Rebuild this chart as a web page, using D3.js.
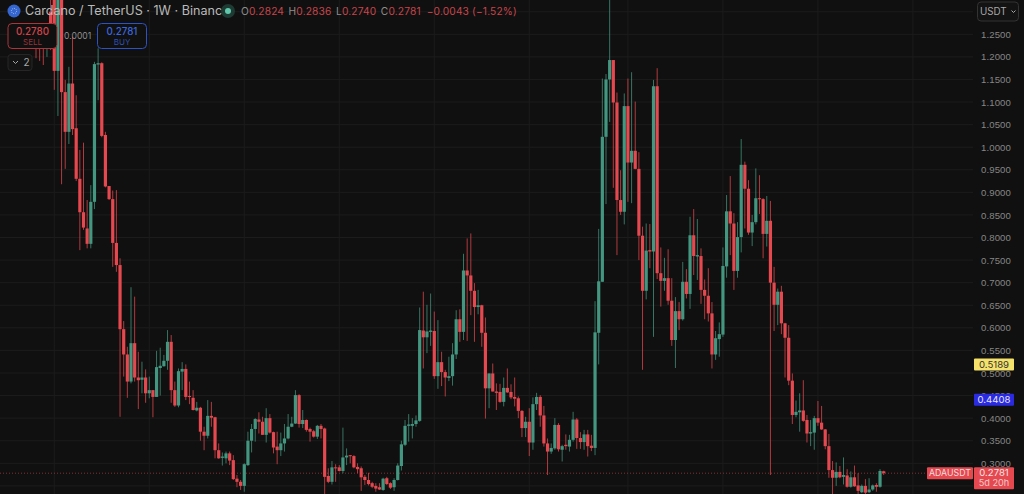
<!DOCTYPE html>
<html>
<head>
<meta charset="utf-8">
<script src="https://cdn.jsdelivr.net/npm/d3@7"></script>
<style>
  html, body { margin: 0; padding: 0; background: #101010; overflow: hidden; }
  svg { display: block; font-family: Inter, "Noto Sans", sans-serif; }
  .price-axis text { fill: #868686; font-size: 9.6px; letter-spacing: 0.1px; }
</style>
</head>
<body>
<div id="chart"></div>
<script>
const opens = [1.27,1.245,1.25,1.22,1.30,1.40,1.169,1.38,1.122,1.034,1.141,1.042,.930,.856,.820,.786,.879,1.183,1.186,1.027,.914,.885,.788,
.739,.597,.541,.481,.566,.490,.485,.490,.455,.462,.447,.511,.515,.527,.569,.462,.428,.503,.509,.449,.445,.417,.423,.370,.361,.405,.402,.329,.312,.311,.322,.307,.266,.259,.250,.296,.350,.376,.397,.392,.363,.400,.369,.337,.329,.344,.355,.381,.388,.451,.387,.396,.376,.371,.359,.383,.377,.272,.259,.291,.291,.283,.313,.318,.316,.292,.289,.270,.263,.256,.250,.247,.241,.267,.256,.247,.263,
.294,.341,.383,.383,.387,.394,.594,.579,.591,.593,.493,.524,.502,.489,.493,.541,.619,.591,.727,.716,.682,.646,.650,.589,.466,.499,.459,.458,.436,.467,.458,.447,.444,.416,.378,.392,.346,.431,.447,.406,.344,.326,.333,.385,.330,.341,.337,.352,.397,.356,.347,.364,.339,.334,.589,
.702,1.023,1.150,1.193,1.099,.883,.857,1.091,.966,.992,.952,.804,.682,.772,.769,1.135,.721,.704,.710,.660,.573,.637,.619,.702,.675,.805,.758,.759,.684,.671,.632,.541,.575,.585,.736,.858,.831,.726,.801,.961,.908,.811,.834,.887,.885,.808,
.837,.700,.651,.680,.610,.578,.483,.407,.413,.417,.396,.366,.368,.400,.390,.375,.338,.285,.268,.281,.270,.273,.248,.269,.251,.236,.250,.236,.242,.252,.248,.2824];
const highs = [1.275,1.26,1.27,1.27,1.33,1.44,1.45,1.42,1.149,1.178,1.245,1.115,.994,1.010,.883,.916,1.189,1.219,1.188,1.034,.914,.904,.905,
.754,.615,.558,.690,.669,.547,.525,.508,.492,.462,.549,.556,.540,.595,.584,.481,.510,.524,.519,.481,.462,.436,.425,.381,.440,.436,.403,.344,.324,.326,.326,.318,.274,.263,.300,.370,.387,.400,.413,.403,.422,.409,.370,.370,.368,.387,.409,.403,.462,.453,.418,.397,.379,.374,.385,.387,.379,.289,.305,.298,.296,.379,.333,.318,.318,.300,.293,.274,.279,.259,.256,.256,.268,.270,.258,.267,.300,
.350,.396,.409,.400,.406,.645,.680,.651,.676,.636,.617,.547,.507,.536,.566,.639,.641,.764,.798,.809,.699,.684,.651,.623,.499,.521,.477,.476,.490,.510,.475,.490,.448,.418,.403,.422,.446,.456,.451,.427,.355,.344,.400,.389,.341,.364,.363,.414,.400,.369,.374,.374,.363,.659,.819,
1.152,1.162,1.33,1.193,1.121,.949,1.119,1.152,1.166,1.101,.989,.824,.831,.830,1.149,1.175,.778,.755,.774,.710,.668,.657,.746,.730,.846,.863,.841,.776,.707,.732,.657,.593,.612,.778,.894,.936,.854,.834,1.018,.968,.927,.850,.953,.938,.887,.892,
.881,.735,.687,.693,.611,.606,.499,.439,.455,.484,.407,.396,.405,.438,.427,.376,.365,.305,.302,.294,.313,.287,.282,.295,.278,.253,.265,.267,.253,.256,.287,.2836];
const lows = [1.197,1.191,1.182,1.200,1.215,1.127,1.069,.918,.952,1.007,1.027,.925,.772,.817,.776,.776,.863,1.104,1.022,.911,.883,.735,.724,
.403,.492,.445,.477,.481,.420,.455,.434,.444,.402,.447,.450,.514,.507,.434,.425,.424,.462,.440,.431,.417,.415,.350,.329,.355,.381,.311,.310,.295,.300,.296,.263,.247,.241,.237,.294,.324,.348,.366,.363,.346,.366,.322,.298,.316,.326,.353,.380,.387,.379,.378,.370,.348,.357,.354,.355,.220,.256,.253,.259,.282,.278,.296,.300,.289,.278,.239,.252,.251,.245,.237,.241,.239,.252,.243,.239,.262,
.284,.338,.348,.355,.381,.392,.510,.544,.560,.487,.465,.471,.448,.482,.472,.531,.569,.573,.571,.628,.569,.630,.558,.399,.422,.459,.418,.434,.426,.456,.442,.426,.400,.358,.358,.316,.330,.418,.381,.337,.274,.321,.330,.326,.304,.330,.326,.348,.332,.332,.330,.315,.327,.318,.519,
.702,.874,1.056,.910,.761,.850,.829,.879,.876,.951,.750,.507,.663,.732,.580,.708,.647,.682,.651,.560,.511,.595,.616,.665,.642,.717,.706,.653,.619,.614,.510,.529,.536,.580,.711,.761,.684,.711,.767,.820,.806,.781,.829,.852,.754,.780,
.274,.593,.606,.586,.490,.473,.387,.402,.370,.392,.346,.338,.330,.383,.374,.331,.268,.225,.250,.267,.253,.246,.246,.248,.232,.234,.232,.234,.239,.237,.246,.2740];
const closes = [1.245,1.22,1.22,1.25,1.25,1.169,1.38,1.122,1.034,1.141,1.040,.930,.856,.822,.786,.879,1.184,1.186,1.025,.913,.885,.788,.739,
.597,.541,.481,.566,.490,.484,.490,.455,.462,.447,.513,.516,.527,.569,.462,.428,.504,.509,.447,.447,.418,.423,.370,.361,.405,.401,.329,.311,.315,.322,.306,.265,.259,.250,.298,.350,.376,.398,.392,.363,.400,.368,.335,.329,.344,.355,.381,.388,.451,.387,.396,.374,.370,.359,.383,.376,.270,.259,.291,.290,.283,.313,.317,.316,.291,.287,.269,.263,.254,.248,.244,.242,.266,.254,.246,.263,.295,
.342,.383,.386,.387,.395,.595,.579,.592,.594,.493,.524,.502,.490,.493,.541,.619,.591,.727,.716,.682,.646,.650,.589,.466,.499,.459,.456,.436,.467,.457,.446,.443,.416,.378,.392,.346,.431,.447,.406,.344,.326,.334,.385,.331,.338,.338,.352,.397,.356,.347,.364,.338,.334,.590,.703,
1.023,1.150,1.193,1.099,.883,.857,1.091,.966,.992,.952,.804,.682,.771,.769,1.135,.721,.704,.710,.660,.573,.637,.619,.702,.675,.805,.759,.761,.684,.671,.632,.541,.577,.586,.737,.858,.831,.726,.801,.961,.908,.811,.834,.887,.885,.808,.837,
.700,.651,.680,.610,.578,.483,.407,.414,.417,.394,.366,.369,.400,.390,.375,.338,.285,.268,.281,.269,.274,.248,.269,.249,.239,.250,.235,.242,.251,.248,.283,.2781];

const priceTicks = [0.30,0.35,0.40,0.45,0.50,0.55,0.60,0.65,0.70,0.75,0.80,0.85,0.90,0.95,1.00,1.05,1.10,1.15,1.20,1.25];
const gridPrices = [0.25, ...priceTicks, 1.30];
const gridCandles = [5,31,57,83,109,135,162,188,214,240];

const titleText = "Cardano / TetherUS · 1W · Binance";
const ohlcLabels = ["O","H","L","C"];
const ohlcValues = ["0.2824","0.2836","0.2740","0.2781"];
const changeText = "−0.0043 (−1.52%)";
const yellowLevel = 0.5189;
const blueLevel = 0.4408;
const lastPrice = 0.2781;

const width = 1024, height = 494;
const plotRight = 973;
const red = "#e5484f", green = "#43967f";

const x = d3.scaleLinear().domain([0, opens.length - 1]).range([36, 883.7]);
const y = d3.scaleLinear().domain([0.30, 1.25]).range([463.3, 34.3]);

const svg = d3.select("#chart").append("svg")
  .attr("width", width)
  .attr("height", height);

svg.append("rect").attr("width", width).attr("height", height).attr("fill", "#101010");

// grid
svg.append("g").selectAll("line").data(gridPrices).join("line")
  .attr("x1", 0).attr("x2", plotRight)
  .attr("y1", d => y(d)).attr("y2", d => y(d))
  .attr("stroke", "#1c1c1c");

svg.append("g").selectAll("line").data(gridCandles).join("line")
  .attr("x1", d => x(d)).attr("x2", d => x(d))
  .attr("y1", 0).attr("y2", height)
  .attr("stroke", "#1c1c1c");

// last price line
svg.append("line")
  .attr("x1", 0).attr("x2", plotRight - 46)
  .attr("y1", y(lastPrice)).attr("y2", y(lastPrice))
  .attr("stroke", red).attr("stroke-opacity", 0.55)
  .attr("stroke-dasharray", "1 2");

// candles
const candles = svg.append("g").selectAll("g").data(d3.range(opens.length)).join("g");
const colorOf = i => closes[i] >= opens[i] ? green : red;

candles.append("line")
  .attr("x1", i => x(i)).attr("x2", i => x(i))
  .attr("y1", i => y(highs[i])).attr("y2", i => y(lows[i]))
  .attr("stroke", colorOf).attr("stroke-opacity", 0.75);

candles.append("rect")
  .attr("x", i => x(i) - 1.6)
  .attr("width", 3.2)
  .attr("y", i => y(Math.max(opens[i], closes[i])))
  .attr("height", i => Math.max(1, Math.abs(y(opens[i]) - y(closes[i]))))
  .attr("fill", colorOf);

// price axis
const axis = svg.append("g")
  .attr("class", "price-axis")
  .attr("transform", `translate(981,0)`)
  .call(d3.axisRight(y).tickValues(priceTicks).tickSize(0).tickPadding(0).tickFormat(d3.format(".4f")));
axis.select(".domain").remove();

// price tags
function priceTag(level, fill, textFill) {
  svg.append("rect")
    .attr("x", 974).attr("y", y(level) - 6).attr("width", 40).attr("height", 12).attr("rx", 1)
    .attr("fill", fill);
  svg.append("text")
    .attr("x", 994).attr("y", y(level) + 3.4).attr("text-anchor", "middle")
    .attr("font-size", 9.6).attr("fill", textFill)
    .text(d3.format(".4f")(level));
}
priceTag(yellowLevel, "#f5e26b", "#333");
priceTag(blueLevel, "#2a2ae0", "#e4e4ff");

svg.append("rect")
  .attr("x", 927).attr("y", y(lastPrice) - 6).attr("width", 46).attr("height", 12).attr("rx", 1)
  .attr("fill", red);
svg.append("text")
  .attr("x", 950).attr("y", y(lastPrice) + 3.2).attr("text-anchor", "middle")
  .attr("font-size", 8.8).attr("fill", "#f6dcdc")
  .text("ADAUSDT");
svg.append("rect")
  .attr("x", 974).attr("y", y(lastPrice) - 6).attr("width", 40).attr("height", 22).attr("rx", 1)
  .attr("fill", red);
svg.append("text")
  .attr("x", 994).attr("y", y(lastPrice) + 3.2).attr("text-anchor", "middle")
  .attr("font-size", 9.6).attr("fill", "#f8e2e2")
  .text(d3.format(".4f")(lastPrice));
svg.append("text")
  .attr("x", 994).attr("y", y(lastPrice) + 13).attr("text-anchor", "middle")
  .attr("font-size", 9.2).attr("fill", "#f3c8c8")
  .text("5d 20h");

// currency button
svg.append("rect")
  .attr("x", 977.5).attr("y", 2).attr("width", 41).attr("height", 19).attr("rx", 3.5)
  .attr("fill", "#131313").attr("stroke", "#333");
svg.append("text")
  .attr("x", 980).attr("y", 15.3)
  .attr("font-size", 9.8).attr("fill", "#a8a8a8")
  .text("USDT");
svg.append("path")
  .attr("d", "M1011.5 10.5l2 2 2-2")
  .attr("fill", "none").attr("stroke", "#a8a8a8");

// legend: symbol title
svg.append("circle").attr("cx", 14).attr("cy", 11).attr("r", 6.5).attr("fill", "#3566cf");
svg.append("circle").attr("cx", 14).attr("cy", 11).attr("r", 2.6)
  .attr("fill", "none").attr("stroke", "#a9c3f5").attr("stroke-width", 1).attr("stroke-dasharray", "1 1");
svg.append("text")
  .attr("x", 25).attr("y", 15.4)
  .attr("font-size", 12.6).attr("fill", "#b9b9b9")
  .text(titleText);
svg.append("circle").attr("cx", 228).attr("cy", 11).attr("r", 7).attr("fill", "#1d3a33");
svg.append("circle").attr("cx", 228).attr("cy", 11).attr("r", 3).attr("fill", "#62c8ad");

const ohlc = svg.append("text").attr("x", 241).attr("y", 14.6).attr("font-size", 10.2).attr("letter-spacing", 0.15);
ohlcLabels.forEach((lab, i) => {
  ohlc.append("tspan").attr("fill", "#8d8d8d").attr("dx", i ? 4.5 : 0).text(lab);
  ohlc.append("tspan").attr("fill", "#c8444b").text(ohlcValues[i]);
});
ohlc.append("tspan").attr("fill", "#c8444b").attr("dx", 6).text(changeText);

// sell / buy buttons
function tradeButton(bx, priceText, label, stroke, fill, labelFill) {
  svg.append("rect")
    .attr("x", bx).attr("y", 23.5).attr("width", 49).attr("height", 25).attr("rx", 4)
    .attr("fill", "#101010").attr("stroke", stroke);
  svg.append("text")
    .attr("x", bx + 24.5).attr("y", 34.5).attr("text-anchor", "middle")
    .attr("font-size", 9.8).attr("font-weight", 500).attr("fill", fill)
    .text(priceText);
  svg.append("text")
    .attr("x", bx + 24.5).attr("y", 44.8).attr("text-anchor", "middle")
    .attr("font-size", 8).attr("fill", labelFill)
    .text(label);
}
tradeButton(8, "0.2780", "SELL", "#a8363c", "#d2434a", "#96333a");
tradeButton(97.5, "0.2781", "BUY", "#2d52c4", "#3b66de", "#2f4fb0");
svg.append("text")
  .attr("x", 64).attr("y", 39).attr("font-size", 8.6).attr("fill", "#8e8e8e").text("0.0001");

svg.append("rect")
  .attr("x", 8).attr("y", 54.5).attr("width", 24).attr("height", 16).attr("rx", 3)
  .attr("fill", "#141414").attr("stroke", "#262626");
svg.append("path")
  .attr("d", "M13 61l2.5 2.5 2.5-2.5")
  .attr("fill", "none").attr("stroke", "#a8a8a8");
svg.append("text")
  .attr("x", 23.5).attr("y", 66).attr("font-size", 10).attr("fill", "#a8a8a8").text("2");
</script>
</body>
</html>
